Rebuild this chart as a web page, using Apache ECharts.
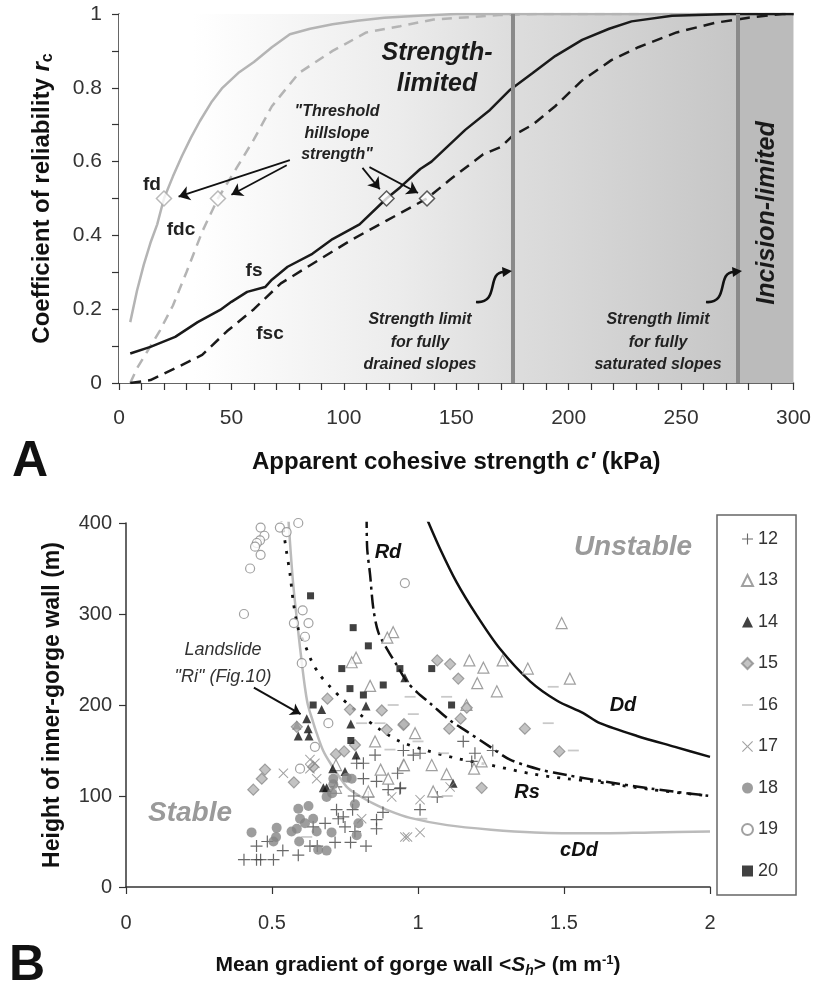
<!DOCTYPE html>
<html>
<head>
<meta charset="utf-8">
<script src="https://cdn.jsdelivr.net/npm/echarts/dist/echarts.min.js"></script>
<style>
  html, body { margin: 0; padding: 0; background: #fff; }
  #main { width: 814px; height: 989px; }
</style>
</head>
<body>
<div id="main"></div>
<script>
// ---- panel A: coefficient of reliability vs apparent cohesion (kPa) ----
var fd = [[5,0.165],[8,0.25],[11,0.32],[14,0.38],[17,0.43],[20,0.5],[24,0.56],[28,0.615],[32,0.665],[36,0.71],[41,0.76],[46,0.8],[53,0.84],[60,0.87],[68,0.91],[76,0.945],[85,0.96],[95,0.972],[106,0.982],[118,0.99],[135,0.996],[150,1.0],[300,1.0]];
var fdc = [[5,0],[8,0.04],[12,0.08],[18,0.14],[24,0.21],[30,0.3],[37,0.41],[44,0.5],[51,0.57],[60,0.66],[68,0.75],[80,0.84],[95,0.9],[110,0.95],[125,0.967],[140,0.985],[169,0.997],[185,1.0],[300,1.0]];
var fs = [[5,0.08],[14,0.098],[25,0.125],[35,0.165],[45,0.198],[50,0.22],[57,0.247],[65,0.26],[68,0.28],[75,0.315],[86,0.35],[95,0.39],[107,0.43],[119,0.5],[125,0.53],[134,0.58],[139,0.6],[154,0.686],[165,0.74],[174,0.795],[184,0.84],[194,0.886],[206,0.93],[218,0.96],[228,0.98],[246,0.995],[272,1.0],[300,1.0]];
var fsc = [[5,0],[14,0.008],[25,0.04],[37,0.076],[48,0.14],[60,0.2],[72,0.27],[89,0.334],[104,0.39],[119,0.44],[137,0.5],[147,0.55],[162,0.62],[170,0.64],[175,0.67],[184,0.7],[194,0.75],[206,0.82],[219,0.875],[231,0.91],[248,0.95],[265,0.976],[280,0.99],[295,1.0],[300,1.0]];
var thresholdLight = [[20,0.5],[44,0.5]];
var thresholdDark = [[119,0.5],[137,0.5]];
var strengthLimits = [175, 275];

// ---- panel B: gorge wall height (m) vs mean gradient ----
var cDd = [[0.555,410],[0.572,335],[0.59,280],[0.603,244],[0.613,219],[0.623,200],[0.64,182],[0.653,169],[0.675,150],[0.7,136],[0.756,110],[0.8,100],[0.846,92],[0.9,84],[0.973,76],[1.1,68],[1.25,63],[1.4,60],[1.6,59],[1.8,60],[2.0,61]];
var Rs = [[0.533,405],[0.548,372],[0.562,343],[0.573,313],[0.59,284],[0.613,266],[0.636,248],[0.664,233],[0.699,220],[0.733,209],[0.8,190],[0.87,173],[0.938,160],[1.03,150],[1.138,141],[1.247,134],[1.395,124],[1.51,119],[1.6,116],[1.8,107],[2.0,100]];
var Rd = [[0.824,410],[0.826,372],[0.836,343],[0.847,306],[0.864,280],[0.893,262],[0.927,244],[0.961,226],[1.0,213],[1.041,202],[1.11,183],[1.167,171],[1.247,154],[1.315,140],[1.418,129],[1.51,123],[1.6,118],[1.8,108],[2.0,100]];
var Dd = [[1.03,405],[1.075,372],[1.132,335],[1.2,299],[1.28,262],[1.384,226],[1.475,205],[1.566,191],[1.623,180],[1.75,166],[1.88,154],[2.0,143]];

var s12 = [[0.404,30],[0.447,30],[0.461,30],[0.505,30],[0.447,45],[0.484,50],[0.537,40],[0.59,35],[0.63,45],[0.655,45],[0.716,49],[0.769,49],[0.822,45],[0.721,85],[0.744,77],[0.75,66],[0.727,75],[0.776,85],[0.858,74],[0.858,64],[0.641,66],[0.682,70],[0.784,61],[0.813,119],[0.858,116],[0.79,136],[0.813,136],[0.853,145],[0.83,99],[0.898,107],[0.938,108],[1.155,160],[1.195,147],[1.256,150],[1.184,138],[1.007,147],[0.984,145],[1.007,85],[1.066,99],[0.94,109],[0.88,82],[0.95,150],[0.93,125],[0.78,100],[0.72,110]];
var s13 = [[0.915,280],[0.895,274],[0.788,252],[0.773,247],[0.836,221],[1.492,290],[1.176,249],[1.224,241],[1.29,249],[1.376,240],[1.52,229],[1.203,224],[1.27,215],[1.166,200],[0.853,160],[0.872,129],[0.95,134],[0.898,119],[0.83,105],[0.719,134],[0.719,109],[0.99,169],[1.047,134],[0.952,134],[1.098,124],[1.218,138],[1.192,130],[1.052,105]];
var s14 = [[0.619,185],[0.585,178],[0.624,174],[0.59,166],[0.627,166],[0.67,195],[0.822,199],[0.77,179],[0.788,145],[0.708,130],[0.676,109],[0.687,109],[0.75,127],[1.12,114],[0.955,230]];
var s15 = [[0.767,195],[0.876,194],[0.585,176],[0.784,156],[0.719,146],[0.747,149],[0.476,129],[0.465,119],[0.436,107],[0.575,115],[0.641,132],[0.95,178],[0.893,173],[1.066,249],[1.11,245],[1.138,229],[1.167,197],[1.146,185],[1.107,174],[1.366,174],[1.484,149],[1.218,109],[0.952,179],[0.69,207]];
var s16 = [[0.915,200],[0.807,180],[0.904,151],[0.619,55],[0.984,190],[1.446,180],[1.532,150],[1.087,147],[1.013,75],[1.1,100],[1.463,220],[1.098,209],[0.973,209],[0.87,180],[1.0,160]];
var s17 = [[0.539,125],[0.63,140],[0.647,136],[0.653,119],[0.63,130],[0.91,99],[0.807,75],[0.955,55],[1.007,96],[1.007,60],[0.964,55],[1.11,110]];
var s18 = [[0.43,60],[0.516,65],[0.514,55],[0.505,50],[0.59,86],[0.625,89],[0.596,75],[0.613,70],[0.641,75],[0.567,61],[0.585,64],[0.593,50],[0.653,61],[0.704,60],[0.658,41],[0.687,40],[0.71,119],[0.71,113],[0.756,120],[0.773,119],[0.784,91],[0.796,70],[0.79,57],[0.687,99],[0.706,103]];
var s19 = [[0.461,395],[0.527,395],[0.59,400],[0.55,390],[0.474,386],[0.459,381],[0.448,378],[0.442,374],[0.461,365],[0.425,350],[0.955,334],[0.404,300],[0.605,304],[0.625,290],[0.575,290],[0.613,275],[0.602,246],[0.693,180],[0.647,154],[0.596,130]];
var s20 = [[0.632,320],[0.778,285],[0.83,265],[0.739,240],[0.881,222],[0.938,240],[0.767,218],[0.813,211],[0.641,200],[1.047,240],[1.115,200],[0.77,161]];

var gorgeNames = ["12","13","14","15","16","17","18","19","20"];

var FONT = "Arial, 'Liberation Sans', sans-serif";

var plusPath = "path://M4.5,0H5.5V4.5H10V5.5H5.5V10H4.5V5.5H0V4.5H4.5Z";
var crossPath = "path://M0.7,0L5,4.3L9.3,0L10,0.7L5.7,5L10,9.3L9.3,10L5,5.7L0.7,10L0,9.3L4.3,5L0,0.7Z";
var dashPath = "path://M0,0H10V1.6H0Z";

var chart = echarts.init(document.getElementById("main"));

function txt(x, y, text, font, fill, rot) {
  return {
    type: "text", x: x, y: y, rotation: rot || 0, silent: true, z: 100,
    style: { text: text, font: font, fill: fill || "#222", align: "center", verticalAlign: "middle" }
  };
}

// curly "strength limit" pointer: tail at (x,y), arrow tip near the limit line
function squiggle(x, y) {
  return [
    { type: "bezierCurve", z: 100, silent: true,
      shape: { x1: x, y1: y, cpx1: x + 24, cpy1: y + 2, cpx2: x + 10, cpy2: y - 30, x2: x + 28, y2: y - 30 },
      style: { stroke: "#111", lineWidth: 2.6, fill: null } },
    { type: "polygon", z: 100, silent: true,
      shape: { points: [[x + 26, y - 35], [x + 36, y - 31], [x + 27, y - 25]] },
      style: { fill: "#111" } }
  ];
}

function scat(name, data, symbol, size, color, border, keep) {
  return {
    name: name, type: "scatter", xAxisIndex: 1, yAxisIndex: 1,
    symbol: symbol, symbolSize: size, symbolKeepAspect: !!keep,
    itemStyle: { color: color, borderColor: border || color, borderWidth: border ? 1.2 : 0 },
    data: data, z: 3
  };
}

var axisCommon = {
  axisLine: { lineStyle: { color: "#333", width: 1.5 } },
  axisTick: { length: 7, lineStyle: { color: "#333", width: 1.2 } },
  splitLine: { show: false }
};

chart.setOption({
  animation: false,
  backgroundColor: "#fff",
  grid: [
    { left: 119, top: 14, width: 676, height: 369 },
    { left: 126, top: 523, width: 584, height: 364 }
  ],
  xAxis: [
    Object.assign({}, axisCommon, {
      type: "value", gridIndex: 0, min: 0, max: 300, interval: 50,
      minorTick: { show: true, splitNumber: 5, length: 7, lineStyle: { color: "#333", width: 1.2 } },
      axisLabel: { fontSize: 21, color: "#333", margin: 25, fontFamily: FONT },
      name: "Apparent cohesive strength {i|c′} (kPa)", nameLocation: "middle", nameGap: 67,
      nameTextStyle: { fontSize: 24, fontWeight: "bold", color: "#111", fontFamily: FONT,
        rich: { i: { fontSize: 24, fontWeight: "bold", fontStyle: "italic", color: "#111", fontFamily: FONT } } }
    }),
    Object.assign({}, axisCommon, {
      type: "value", gridIndex: 1, min: 0, max: 2, interval: 0.5,
      axisLabel: { fontSize: 20, color: "#333", margin: 26, fontFamily: FONT },
      name: "Mean gradient of gorge wall <{i|S}{sub|h}> (m m{sup|-1})", nameLocation: "middle", nameGap: 66,
      nameTextStyle: { fontSize: 21, fontWeight: "bold", color: "#111", fontFamily: FONT,
        rich: {
          i: { fontSize: 21, fontWeight: "bold", fontStyle: "italic", color: "#111", fontFamily: FONT },
          sub: { fontSize: 14, fontStyle: "italic", color: "#111", fontFamily: FONT, padding: [11, 0, 0, 0] },
          sup: { fontSize: 13, fontWeight: "bold", color: "#111", fontFamily: FONT, padding: [0, 0, 11, 0] }
        } }
    })
  ],
  yAxis: [
    Object.assign({}, axisCommon, {
      type: "value", gridIndex: 0, min: 0, max: 1, interval: 0.2,
      minorTick: { show: true, splitNumber: 2, length: 7, lineStyle: { color: "#333", width: 1.2 } },
      axisLabel: { fontSize: 21, color: "#333", margin: 17, fontFamily: FONT },
      name: "Coefficient of reliability {i|r}{sub|c}", nameLocation: "middle", nameGap: 63,
      nameTextStyle: { fontSize: 24, fontWeight: "bold", color: "#111", fontFamily: FONT,
        rich: {
          i: { fontSize: 24, fontWeight: "bold", fontStyle: "italic", color: "#111", fontFamily: FONT },
          sub: { fontSize: 16, fontWeight: "bold", color: "#111", fontFamily: FONT, padding: [12, 0, 0, 0] }
        } }
    }),
    Object.assign({}, axisCommon, {
      type: "value", gridIndex: 1, min: 0, max: 400, interval: 100,
      axisLabel: { fontSize: 20, color: "#333", margin: 14, fontFamily: FONT },
      name: "Height of inner-gorge wall (m)", nameLocation: "middle", nameGap: 62,
      nameTextStyle: { fontSize: 23, fontWeight: "bold", color: "#111", fontFamily: FONT }
    })
  ],
  legend: {
    orient: "vertical", left: 717, top: 515,
    padding: [15, 18, 15, 24], itemGap: 23.5, itemWidth: 11, itemHeight: 11,
    borderColor: "#666", borderWidth: 1.5,
    textStyle: { fontSize: 18, color: "#333", fontFamily: FONT },
    data: gorgeNames
  },
  series: [
    // background zones and strength limits
    {
      type: "line", xAxisIndex: 0, yAxisIndex: 0, data: [[0, 0]], symbol: "none", silent: true,
      lineStyle: { opacity: 0 }, z: 0,
      markArea: {
        silent: true,
        data: [
          [{ xAxis: 0, yAxis: 0, itemStyle: { color: { type: "linear", x: 0, y: 0, x2: 1, y2: 0,
              colorStops: [{ offset: 0, color: "#ffffff" }, { offset: 0.12, color: "#ffffff" },
                { offset: 0.45, color: "#ececec" }, { offset: 0.636, color: "#dddddd" },
                { offset: 1, color: "#c6c6c6" }] } } }, { xAxis: 275, yAxis: 1 }],
          [{ xAxis: 275, yAxis: 0, itemStyle: { color: "#bbbbbb" } }, { xAxis: 300, yAxis: 1 }]
        ]
      },
      markLine: {
        silent: true, symbol: "none", label: { show: false },
        lineStyle: { color: "#8a8a8a", width: 4, type: "solid" },
        data: strengthLimits.map(function (v) { return { xAxis: v }; })
      }
    },
    { name: "fd", type: "line", xAxisIndex: 0, yAxisIndex: 0, data: fd, symbol: "none", z: 2,
      lineStyle: { color: "#b4b4b4", width: 2.5 } },
    { name: "fdc", type: "line", xAxisIndex: 0, yAxisIndex: 0, data: fdc, symbol: "none", z: 2,
      lineStyle: { color: "#b4b4b4", width: 2.5, type: [10, 7] } },
    { name: "fs", type: "line", xAxisIndex: 0, yAxisIndex: 0, data: fs, symbol: "none", z: 2,
      lineStyle: { color: "#1a1a1a", width: 2.5 } },
    { name: "fsc", type: "line", xAxisIndex: 0, yAxisIndex: 0, data: fsc, symbol: "none", z: 2,
      lineStyle: { color: "#1a1a1a", width: 2.5, type: [11, 7] } },
    { type: "scatter", xAxisIndex: 0, yAxisIndex: 0, data: thresholdLight, symbol: "diamond", symbolSize: 15, z: 4,
      itemStyle: { color: "#fff", borderColor: "#a8a8a8", borderWidth: 1.5 } },
    { type: "scatter", xAxisIndex: 0, yAxisIndex: 0, data: thresholdDark, symbol: "diamond", symbolSize: 15, z: 4,
      itemStyle: { color: "#fff", borderColor: "#333", borderWidth: 1.5 },
      markLine: {
        silent: true, symbol: ["none", "arrow"], symbolSize: 11, label: { show: false },
        lineStyle: { color: "#111", width: 1.8, type: "solid" },
        data: [
          [{ coord: [76, 0.604] }, { coord: [26.5, 0.505] }],
          [{ coord: [74.6, 0.59] }, { coord: [50, 0.51] }],
          [{ coord: [108.3, 0.583] }, { coord: [116, 0.525] }],
          [{ coord: [111.4, 0.585] }, { coord: [133, 0.515] }]
        ]
      } },
    // panel B limit curves
    { name: "cDd", type: "line", xAxisIndex: 1, yAxisIndex: 1, data: cDd, symbol: "none", z: 2, smooth: 0.3,
      lineStyle: { color: "#bbbbbb", width: 2.5 } },
    { name: "Rs", type: "line", xAxisIndex: 1, yAxisIndex: 1, data: Rs, symbol: "none", z: 2, smooth: 0.3,
      lineStyle: { color: "#111", width: 2.8, type: [3, 8] } },
    { name: "Rd", type: "line", xAxisIndex: 1, yAxisIndex: 1, data: Rd, symbol: "none", z: 2, smooth: 0.3,
      lineStyle: { color: "#111", width: 2.5, type: [14, 5, 3, 5] } },
    { name: "Dd", type: "line", xAxisIndex: 1, yAxisIndex: 1, data: Dd, symbol: "none", z: 2, smooth: 0.3,
      lineStyle: { color: "#111", width: 2.5 },
      markLine: {
        silent: true, symbol: ["none", "arrow"], symbolSize: 10, label: { show: false },
        lineStyle: { color: "#111", width: 2, type: "solid" },
        data: [[{ coord: [0.438, 219] }, { coord: [0.598, 190] }]]
      } },
    scat("12", s12, plusPath, 12, "#444", null, true),
    scat("13", s13, "triangle", 11, "#fff", "#888"),
    scat("14", s14, "triangle", 9, "#111"),
    scat("15", s15, "diamond", 11, "#b4b4b4", "#8c8c8c"),
    scat("16", s16, dashPath, 11, "#bcbcbc", null, true),
    scat("17", s17, crossPath, 10, "#8a8a8a", null, true),
    scat("18", s18, "circle", 10, "#858585"),
    scat("19", s19, "circle", 9, "#fff", "#8a8a8a"),
    scat("20", s20, "rect", 7, "#111")
  ],
  graphic: [
    txt(437, 53, "Strength-", "italic bold 25px " + FONT, "#1a1a1a"),
    txt(437, 84, "limited", "italic bold 25px " + FONT, "#1a1a1a"),
    txt(337, 112, "\"Threshold", "italic bold 16px " + FONT, "#222"),
    txt(337, 134, "hillslope", "italic bold 16px " + FONT, "#222"),
    txt(337, 155, "strength\"", "italic bold 16px " + FONT, "#222"),
    txt(152, 185, "fd", "bold 19px " + FONT, "#222"),
    txt(181, 230, "fdc", "bold 19px " + FONT, "#222"),
    txt(254, 271, "fs", "bold 19px " + FONT, "#222"),
    txt(270, 334, "fsc", "bold 19px " + FONT, "#222"),
    txt(420, 320, "Strength limit", "italic bold 16px " + FONT, "#222"),
    txt(420, 343, "for fully", "italic bold 16px " + FONT, "#222"),
    txt(420, 365, "drained slopes", "italic bold 16px " + FONT, "#222"),
    txt(658, 320, "Strength limit", "italic bold 16px " + FONT, "#222"),
    txt(658, 343, "for fully", "italic bold 16px " + FONT, "#222"),
    txt(658, 365, "saturated slopes", "italic bold 16px " + FONT, "#222"),
    txt(767, 213, "Incision-limited", "italic bold 25px " + FONT, "#1a1a1a", Math.PI / 2),
    txt(30, 462, "A", "bold 50px " + FONT, "#111"),
    txt(27, 966, "B", "bold 50px " + FONT, "#111"),
    txt(633, 547, "Unstable", "italic bold 28px " + FONT, "#9a9a9a"),
    txt(190, 813, "Stable", "italic bold 28px " + FONT, "#9a9a9a"),
    txt(388, 552, "Rd", "italic bold 20px " + FONT, "#111"),
    txt(623, 705, "Dd", "italic bold 20px " + FONT, "#111"),
    txt(527, 792, "Rs", "italic bold 20px " + FONT, "#111"),
    txt(579, 850, "cDd", "italic bold 20px " + FONT, "#111"),
    txt(223, 650, "Landslide", "italic 18px " + FONT, "#333"),
    txt(223, 677, "\"Ri\" (Fig.10)", "italic 18px " + FONT, "#333")
  ].concat(squiggle(476, 302), squiggle(706, 302))
});
</script>
</body>
</html>
